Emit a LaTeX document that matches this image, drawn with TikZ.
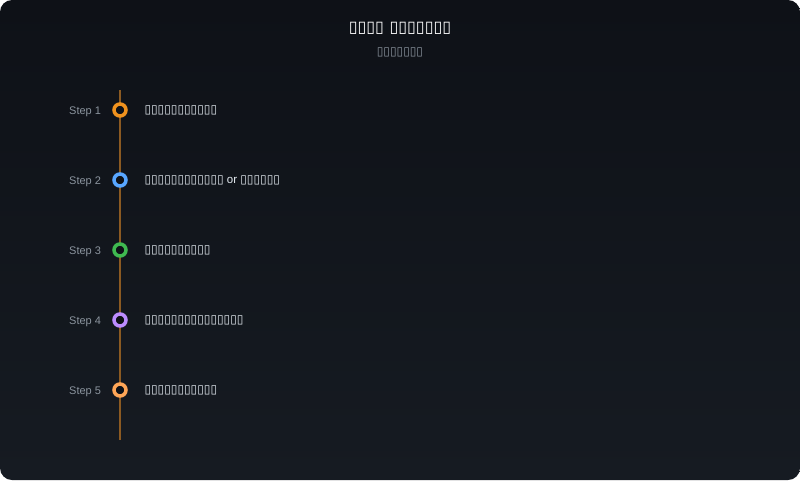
\documentclass[tikz,border=0pt]{standalone}
\usepackage{fontspec}
\setmainfont{Liberation Sans}
\newfontfamily\boxfont{DejaVu Sans}
\definecolor{bgtop}{HTML}{0E1117}
\definecolor{bgbot}{HTML}{161B22}
\definecolor{axis}{HTML}{8B5A22}
\definecolor{labgray}{HTML}{8B949E}
\definecolor{txtwhite}{HTML}{E6EDF3}
\definecolor{cOrange}{HTML}{F0921E}
\definecolor{cBlue}{HTML}{58A6FF}
\definecolor{cGreen}{HTML}{3FB950}
\definecolor{cPurple}{HTML}{BC8CFF}
\definecolor{cPeach}{HTML}{FFA657}
\tikzset{
  dot/.style={circle, draw=#1, line width=3.5pt, fill=bgtop, minimum size=12pt, inner sep=0pt},
  steplab/.style={anchor=east, text=labgray, font=\fontsize{11}{13}\selectfont},
  steptxt/.style={anchor=west, text=txtwhite, font=\fontsize{11}{13}\selectfont},
  boxtxt/.style={font=\boxfont\fontsize{12}{14}\selectfont},
}
\begin{document}
\begin{tikzpicture}[x=1pt,y=-1pt]
  % Background
  \useasboundingbox (0,0) rectangle (800,480);
  \shade[top color=bgtop, bottom color=bgbot, rounded corners=12pt] (0,0) rectangle (800,480);

  % Title and subtitle
  \node[text=white, font=\boxfont\bfseries\fontsize{16}{18}\selectfont] (title) at (400,28) {▯▯▯▯ ▯▯▯▯▯▯▯};
  \node[text=labgray, font=\boxfont\fontsize{12}{14}\selectfont] (subtitle) at (400,52.5) {▯▯▯▯▯▯▯};

  % Timeline axis
  \coordinate (top) at (120,90);
  \coordinate (bot) at (120,440);
  \draw[axis, line width=1.5pt] (top) -- (bot);

  % Step markers
  \node[dot=cOrange] (s1) at (120,110) {};
  \node[dot=cBlue] (s2) at (120,180) {};
  \node[dot=cGreen] (s3) at (120,250) {};
  \node[dot=cPurple] (s4) at (120,320) {};
  \node[dot=cPeach] (s5) at (120,390) {};

  % Step labels
  \node[steplab] (l1) at (104.5,111.5) {Step 1};
  \node[steplab] (l2) at (104.5,181.5) {Step 2};
  \node[steplab] (l3) at (104.5,251.5) {Step 3};
  \node[steplab] (l4) at (104.5,321.5) {Step 4};
  \node[steplab] (l5) at (104.5,391.5) {Step 5};

  % Step texts
  \node[steptxt, boxtxt] (t1) at (141,110.5) {▯▯▯▯▯▯▯▯▯▯▯};
  \node[steptxt, boxtxt] (t2) at (141,180.5) {▯▯▯▯▯▯▯▯▯▯▯▯{\rmfamily\fontsize{11.5}{13}\selectfont{} or }▯▯▯▯▯▯};
  \node[steptxt, boxtxt] (t3) at (141,250.5) {▯▯▯▯▯▯▯▯▯▯};
  \node[steptxt, boxtxt] (t4) at (141,320.5) {▯▯▯▯▯▯▯▯▯▯▯▯▯▯▯};
  \node[steptxt, boxtxt] (t5) at (141,390.5) {▯▯▯▯▯▯▯▯▯▯▯};
\end{tikzpicture}
\end{document}
